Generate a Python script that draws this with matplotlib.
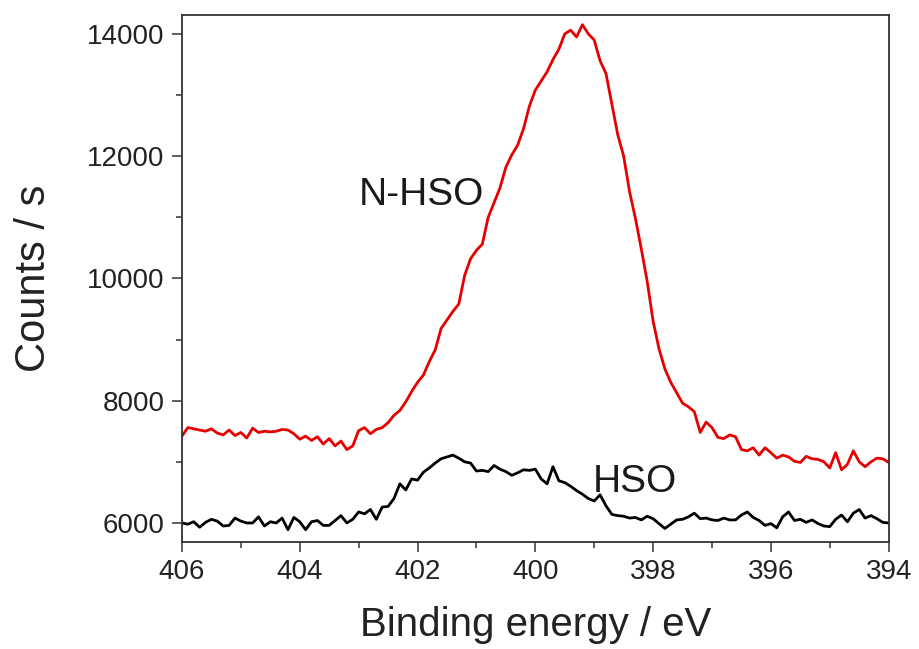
import numpy as np
import matplotlib.pyplot as plt
from matplotlib.ticker import MultipleLocator

plt.rcParams["font.family"] = ["Liberation Sans", "DejaVu Sans"]

# binding energy grid, 0.1 eV steps from 406 down to 394
energy = np.round(np.arange(406.0, 393.95, -0.1), 1)

n_hso = [
    7420, 7560, 7540, 7520, 7500, 7540, 7470, 7440, 7520, 7430,
    7480, 7390, 7550, 7480, 7500, 7490, 7500, 7530, 7520, 7460,
    7370, 7420, 7350, 7410, 7290, 7380, 7260, 7340, 7200, 7260,
    7510, 7560, 7460, 7530, 7560, 7640, 7760, 7840, 7980, 8150,
    8300, 8420, 8640, 8830, 9180, 9320, 9460, 9580, 10050, 10320,
    10460, 10560, 11000, 11240, 11480, 11820, 12020, 12180, 12450, 12820,
    13080, 13230, 13380, 13580, 13750, 14000, 14060, 13950, 14150, 14000,
    13900, 13560, 13350, 12850, 12350, 12000, 11420, 10980, 10480, 9950,
    9300, 8850, 8520, 8300, 8130, 7960, 7900, 7820, 7480, 7650,
    7560, 7400, 7380, 7440, 7410, 7200, 7180, 7230, 7110, 7230,
    7150, 7060, 7110, 7080, 7010, 6990, 7090, 7050, 7040, 7000,
    6900, 7150, 6870, 6960, 7180, 7000, 6920, 7000, 7060, 7050,
    6990,
]

hso = [
    6000, 5980, 6020, 5930, 6010, 6060, 6030, 5950, 5960, 6080,
    6030, 6000, 6000, 6100, 5950, 6020, 6000, 6080, 5890, 6090,
    6020, 5890, 6020, 6040, 5960, 5960, 6040, 6120, 6000, 6060,
    6180, 6150, 6220, 6060, 6260, 6270, 6400, 6640, 6540, 6720,
    6700, 6830, 6900, 6980, 7050, 7080, 7110, 7060, 7000, 6980,
    6850, 6860, 6840, 6940, 6880, 6840, 6780, 6820, 6870, 6860,
    6880, 6720, 6640, 6920, 6690, 6660, 6600, 6530, 6470, 6400,
    6360, 6460, 6280, 6140, 6120, 6110, 6080, 6090, 6050, 6110,
    6070, 5990, 5910, 5980, 6050, 6060, 6100, 6160, 6070, 6080,
    6050, 6040, 6080, 6050, 6050, 6130, 6180, 6090, 6040, 5960,
    5990, 5920, 6100, 6180, 6040, 6060, 6010, 6050, 5990, 5950,
    5940, 6060, 6130, 6020, 6160, 6220, 6080, 6120, 6070, 6010,
    6000,
]

fig = plt.figure(figsize=(9.19, 6.49), dpi=100)
ax = fig.add_axes([0.198, 0.165, 0.769, 0.812])

ax.plot(energy, n_hso, color="#e60000", lw=2.0)
ax.plot(energy, hso, color="black", lw=2.0)

ax.text(401.93, 11366, "N-HSO", fontsize=28, ha="center", va="center", color="#1a1a1a")
ax.text(398.31, 6670, "HSO", fontsize=28, ha="center", va="center", color="#1a1a1a")

ax.set_xlim(406, 394)
ax.set_ylim(5690, 14310)
ax.xaxis.set_major_locator(MultipleLocator(2))
ax.xaxis.set_minor_locator(MultipleLocator(1))
ax.yaxis.set_major_locator(MultipleLocator(2000))
ax.yaxis.set_minor_locator(MultipleLocator(1000))

for s in ax.spines.values():
    s.set_color("#333333")
    s.set_linewidth(1.3)
ax.tick_params(which="both", direction="out", colors="#333333", labelcolor="#222222",
               width=1.1, top=False, right=False)
ax.tick_params(which="major", length=7.5, labelsize=20, pad=5)
ax.tick_params(which="minor", length=4.5)

ax.set_xlabel("Binding energy / eV", fontsize=29, color="#222222", labelpad=15)
ax.set_ylabel("Counts / s", fontsize=30, color="#222222", labelpad=24)

fig.savefig("out.png", dpi=100)
